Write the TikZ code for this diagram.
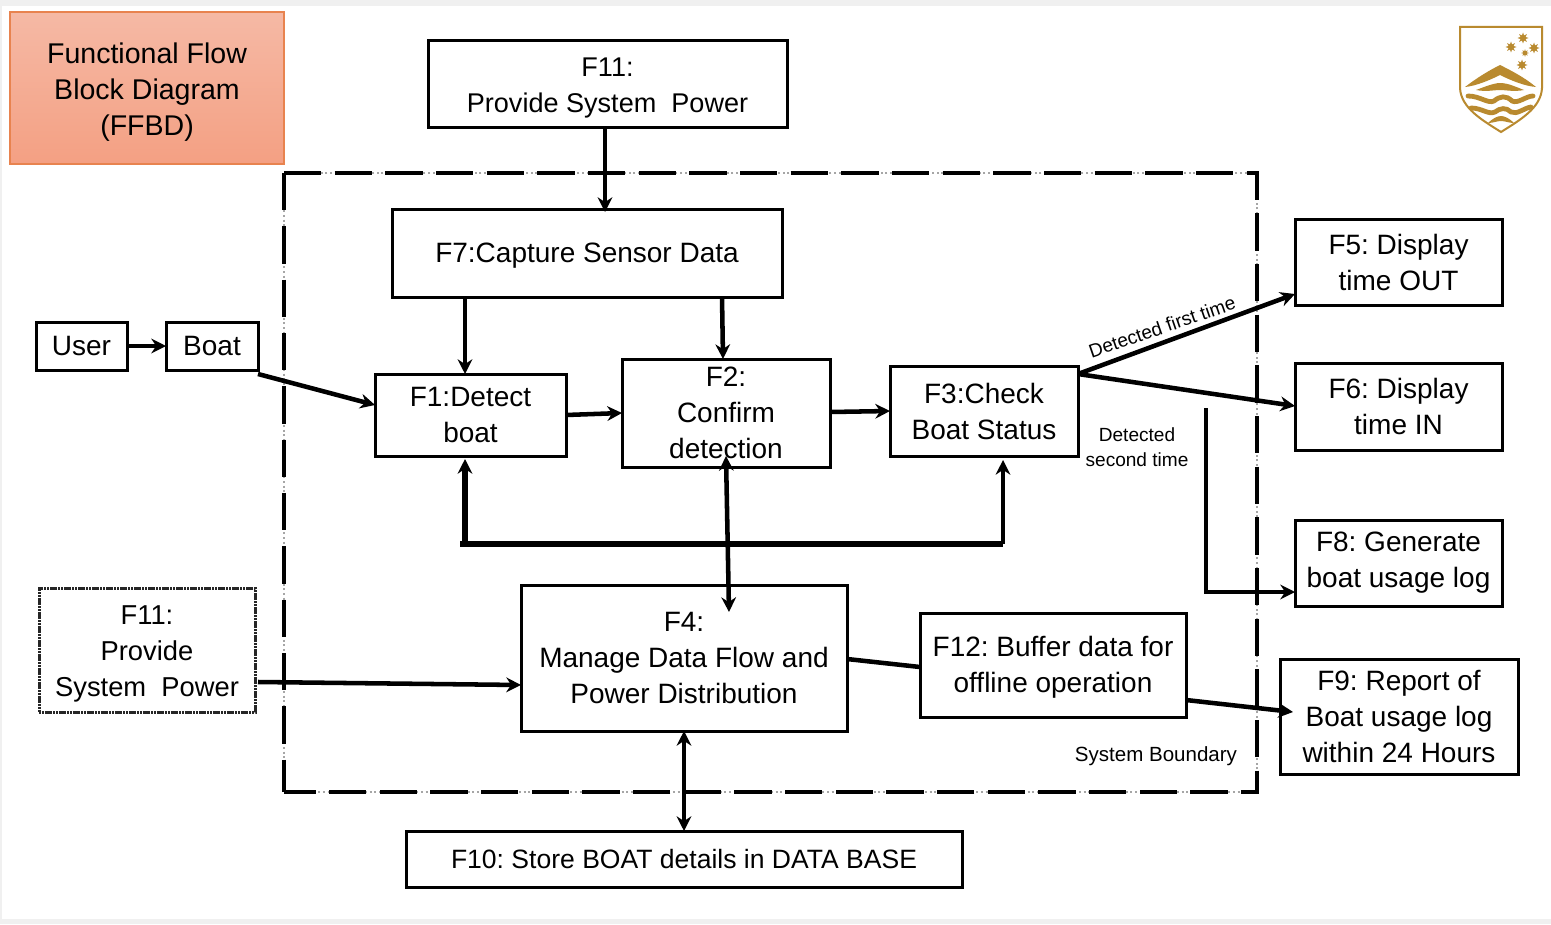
\documentclass[tikz,border=0pt]{standalone}
\usepackage{fontspec}
\setmainfont{Liberation Sans}
\usetikzlibrary{arrows.meta,calc}
\definecolor{gold}{HTML}{B98A2F}
\definecolor{edgeg}{HTML}{F0F0F0}
\definecolor{ffbdtop}{HTML}{F5B9A5}
\definecolor{ffbdbot}{HTML}{F4A083}
\definecolor{ffbdline}{HTML}{E8834F}
\frenchspacing
\tikzset{
  blk/.style={draw=black,line width=2.25pt,inner sep=0pt,outer sep=0pt,align=center,fill=white,
    font=\fontsize{21}{27}\selectfont},
  flow/.style={line width=3.4pt,draw=black,-{Stealth[length=11pt,width=11pt]}},
  flowboth/.style={line width=3.4pt,draw=black,{Stealth[length=11pt,width=11pt]}-{Stealth[length=11pt,width=11pt]}},
  plainflow/.style={line width=3.4pt,draw=black},
  lbl/.style={inner sep=0pt,align=center},
}
\newcommand{\dropby}[1]{\rule{0pt}{\dimexpr 15.3pt+2\dimexpr #1\relax\relax}}
\newcommand{\blkat}[7][]{%
  \node[blk,#1,minimum width={(#5-#3)*0.75pt},minimum height={(#6-#4)*0.75pt}] (#2) at ({(#3+#5)/2},{(#4+#6)/2}) {#7};}
\begin{document}
\begin{tikzpicture}[x=0.75pt,y=-0.75pt]
\useasboundingbox (0,0) rectangle (1551,924);
\fill[edgeg] (0,0) rectangle (1551,924);
\fill[white] (2,6) rectangle (1551,919);

% system boundary
\draw[gray!70,line width=1.5pt,dotted] (284,173) rectangle (1257,792);
\draw[black,line width=3.4pt,dash pattern=on 28pt off 10pt] (284,173) -- (1257,173) -- (1257,792) -- (284,792);
\draw[black,line width=3.4pt,dash pattern=on 28pt off 12pt] (284,173) -- (284,792);

% title
\node[draw=ffbdline,line width=1.5pt,top color=ffbdtop,bottom color=ffbdbot,inner sep=0pt,outer sep=0pt,align=center,
  font=\fontsize{21.4}{27}\selectfont,minimum width={274*0.75pt},minimum height={152*0.75pt}] (title) at (147,88)
  {\dropby{3pt}Functional Flow\\Block Diagram\\(FFBD)};

\blkat[font=\fontsize{20.3}{27}\selectfont]{f11a}{428}{41}{787}{127}{\dropby{2pt}F11:\\Provide System\ \ Power}
\blkat{f7}{392}{209}{782}{297}{\dropby{2pt}F7:Capture Sensor Data}
\blkat{user}{36}{322}{127}{370}{User}
\blkat{boat}{166}{322}{258}{370}{Boat}
\blkat{f1}{375}{374}{566}{456}{F1:Detect\\boat}
\blkat[fill=none]{f2}{622}{359}{830}{467}{F2:\\Confirm\\detection}
\blkat{f3}{890}{366}{1078}{456}{F3:Check\\Boat Status}
\blkat{f5}{1295}{219}{1502}{305}{F5: Display\\time OUT}
\blkat{f6}{1295}{363}{1502}{450}{F6: Display\\time IN}
\blkat{f8}{1295}{520}{1502}{606}{F8: Generate\\boat usage log}
\blkat{f9}{1280}{659}{1518}{774}{F9: Report of\\Boat usage log\\within 24 Hours}
\blkat[draw=black!85,dash pattern=on 1.6pt off 0.5pt,font=\fontsize{20.5}{27}\selectfont]{f11b}{39}{588}{255}{712}{\dropby{2pt}F11:\\Provide\\System\ \ Power}
\blkat{f4}{521}{585}{847}{731}{F4:\\Manage Data Flow and\\Power Distribution}
\blkat{f12}{920}{613}{1186}{717}{\dropby{2pt}F12: Buffer data for\\offline operation}
\blkat[font=\fontsize{19.9}{27}\selectfont]{f10}{406}{831}{962}{887}{F10: Store BOAT details in DATA BASE}

% connectors
\draw[flow] ($(f11a.south west)+(177,0)$) -- ($(f7.north west)+(213,3)$);
\draw[flow] ($(f7.south west)+(73,0)$) -- ($(f1.north west)+(90,0)$);
\draw[flow] ($(f7.south west)+(330,0)$) -- ($(f2.north west)+(101,0)$);
\draw[flow] (user.east) -- (boat.west);
\draw[flow] ($(boat.south east)+(0,4)$) -- ($(f1.north west)+(0,31)$);
\draw[flow] ($(f1.north east)+(0,41)$) -- ($(f2.north west)+(0,54)$);
\draw[flow] ($(f2.north east)+(0,53)$) -- ($(f3.north west)+(0,45)$);
\coordinate (split) at ($(f3.north east)+(0,8)$);
\draw[flow] (split) -- ($(f5.south west)+(0,-11)$);
\draw[flow] (split) -- ($(f6.north west)+(0,43)$);
\draw[flowboth] ($(f2.south west)+(104,-11)$) -- ($(f4.north west)+(208,27)$);
\coordinate (busl) at (460,544);
\coordinate (busr) at (1003,544);
\draw[line width=3.8pt] (busl) -- (busr);
\draw[flow,line width=4pt] ($(busl)+(5,0)$) -- ($(f1.south west)+(90,3)$);
\draw[flow] (busr) -- ($(f3.south west)+(113,4)$);
\coordinate (f8start) at (1206,408);
\draw[flow] (f8start) |- ($(f8.south west)+(0,-14)$);
\draw[flow] ($(f11b.south east)+(3,-30)$) -- ($(f4.north west)+(0,100)$);
\draw[plainflow] ($(f4.north east)+(0,74)$) -- ($(f12.north west)+(0,54)$);
\draw[flow] ($(f12.south east)+(0,-17)$) -- ($(f9.north west)+(13,53)$);
\draw[flowboth] ($(f4.south west)+(163,0)$) -- ($(f10.north west)+(278,0)$);

% labels
\node[lbl,font=\fontsize{14.3}{15}\selectfont,rotate=19] (lfirst) at (1162,327) {Detected first time};
\node[lbl,font=\fontsize{14.3}{18.75}\selectfont] (lsecond) at (1137,447) {Detected\\second time};
\node[lbl,font=\fontsize{15.4}{18}\selectfont] (lsys) at (1156,756) {System Boundary};

% logo
\draw[gold,line width=1.5pt,fill=white] (1460,27) -- (1542,27) -- (1542,88) .. controls (1541,108) and (1520,120) .. (1501,132) .. controls (1482,120) and (1461,108) .. (1460,88) -- cycle;
\fill[gold] (1465,87) .. controls (1478,77) and (1490,70) .. (1500,65) .. controls (1510,70) and (1524,77) .. (1536,87) .. controls (1524,86) and (1510,80) .. (1500,75) .. controls (1490,80) and (1476,86) .. (1465,87) -- cycle;
\fill[gold] (1476,90) .. controls (1484,87) and (1494,83) .. (1500,83) .. controls (1508,83) and (1516,87) .. (1524,90) .. controls (1514,92) and (1506,90) .. (1500,90) .. controls (1494,90) and (1486,92) .. (1476,90) -- cycle;
\draw[gold,line width=3.6pt,line cap=round] (1468,96) .. controls (1480,96) and (1488,104) .. (1494,101) .. controls (1500,96) and (1506,95) .. (1512,101) .. controls (1518,104) and (1526,96) .. (1533,96);
\draw[gold,line width=3.6pt,line cap=round] (1471,108) .. controls (1482,108) and (1488,115) .. (1495,112) .. controls (1500,108) and (1506,107) .. (1511,112) .. controls (1517,115) and (1524,108) .. (1531,107);
\fill[gold] (1488,123) .. controls (1492,119) and (1497,116) .. (1501,116) .. controls (1505,116) and (1510,119) .. (1514,123) .. controls (1509,123) and (1505,121) .. (1501,121) .. controls (1497,121) and (1493,123) .. (1488,123) -- cycle;
\foreach \sx/\sy/\sr in {1523/38/5.5,1511/47/5.5,1534/48/5.5,1525/53/3.8,1522/65/5.5}{
  \fill[gold] ({\sx+\sr},\sy)
    -- ({\sx+0.5*\sr*cos(22.5)},{\sy+0.5*\sr*sin(22.5)}) -- ({\sx+\sr*cos(45)},{\sy+\sr*sin(45)})
    -- ({\sx+0.5*\sr*cos(67.5)},{\sy+0.5*\sr*sin(67.5)}) -- (\sx,{\sy+\sr})
    -- ({\sx-0.5*\sr*cos(67.5)},{\sy+0.5*\sr*sin(67.5)}) -- ({\sx-\sr*cos(45)},{\sy+\sr*sin(45)})
    -- ({\sx-0.5*\sr*cos(22.5)},{\sy+0.5*\sr*sin(22.5)}) -- ({\sx-\sr},\sy)
    -- ({\sx-0.5*\sr*cos(22.5)},{\sy-0.5*\sr*sin(22.5)}) -- ({\sx-\sr*cos(45)},{\sy-\sr*sin(45)})
    -- ({\sx-0.5*\sr*cos(67.5)},{\sy-0.5*\sr*sin(67.5)}) -- (\sx,{\sy-\sr})
    -- ({\sx+0.5*\sr*cos(67.5)},{\sy-0.5*\sr*sin(67.5)}) -- ({\sx+\sr*cos(45)},{\sy-\sr*sin(45)})
    -- ({\sx+0.5*\sr*cos(22.5)},{\sy-0.5*\sr*sin(22.5)}) -- cycle;
}
\end{tikzpicture}
\end{document}
